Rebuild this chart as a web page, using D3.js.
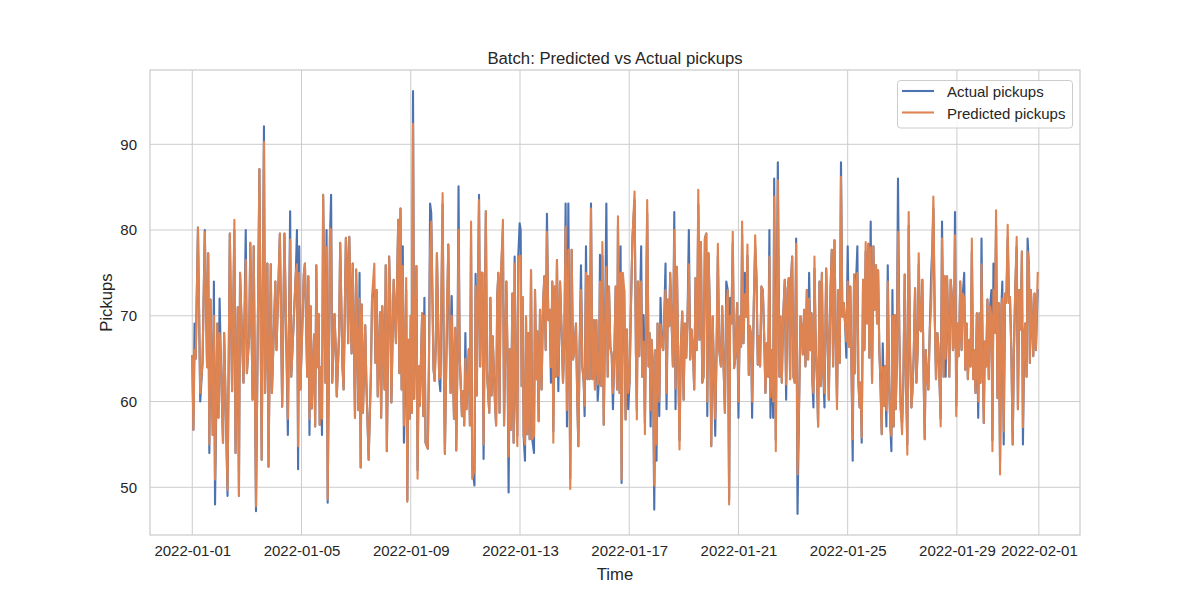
<!DOCTYPE html>
<html>
<head>
<meta charset="utf-8">
<script src="https://cdn.jsdelivr.net/npm/d3@7"></script>
<style>
  html, body { margin: 0; padding: 0; background: #ffffff; }
  svg { display: block; font-family: "Liberation Sans", Arial, sans-serif; }
</style>
</head>
<body>
<svg id="chart" width="1200" height="600"></svg>
<script>
// ---- data (hours since 2022-01-01 00:00) ----
const hours = [
  0,1,2,3,5,7,9,11,13,14, 15,16,18,19,20,22,23,24,25,27, 28,31,33,35,37,38,40,41,42,45,
  47,48,50,51,53,54,56,59,61,63, 64,66,67,69,70,73,74,77,79,81, 84,86,87,
  91,92,93,94,95,97,98,99,101,102, 103,104,105,107,108,109,110,111,112,113,
  114,115,117,118,119,121,122,123,125,126, 127,129,130,132,133,135,136,137,138,140,
  141,143,144,146,147,148,149,150,152,153, 155,157,158,160,161,162,163,165,166,167,
  169,170,171,173,174,175,177,179,181,182, 183,184,
  185,186,188,189,190,191,192,193,194,195, 197,198,199,200,202,203,204,205,207,208,
  209,210,212,213,214,215,217,218,220,221, 222,223,224,225,227,228,229,230,231,232,
  233,234,235,237,238,239,240,241,243,244, 245,246,248,249,250,252,253,254,255,256,
  257,258,259,261,262,263,264,266,267,268, 269,270,271,273,274,276,277,278,279,
  280.1,281.3,282.4,283.3,284.5,285.7,286.5,287.7,288.6,289.5, 290.3,291.2,292.4,293.3,294.4,295.3,296.5,297.7,298.8,300.3,
  301.2,302.4,303.2,304.4,305.6,307,308.2,309.4,310.6,311.7, 312.9,314.1,315.2,316.4,317.3,318.5,319.4,320.5,321.7,323.2,
  324.6,325.8,327,328.1,329.3,330.5,332.2,333.4,334.6,335.8, 337.2,338.4,339.3,340.4,341.6,342.8,344,344.8,346,347.2,
  348.1,349.2,350.4,351.6,352.8,353.9,355.1,356.3,357.4,358.3, 359.5,360.4,361.6,362.7,363.9,365.1,366.2,367.4,368.6,369.7,
  370.9,372.1,373.3,374.1,
  375.5,376.4,377.3,378.4,379.6,380.8,381.9,383.1,384.3,385.5, 386.9,388.7,389.9,390.7,391.6,392.8,393.7,394.5,395.4,396.6,
  397.8,398.9,399.8,401,401.9,402.8,403.6,404.8,406,407.1, 408,408.9,410.4,411.5,412.7,413.9,414.8,415.9,416.8,418,
  419.2,420,421.2,422.4,423.6,424.7,425.9,427.1,428.2,429.4, 430.6,431.8,432.9,434.1,435.3,436.4,437.6,438.8,440,441.1,
  442.3,443.5,444.7,445.8,447,448.2,449.3,450.5,451.7,452.6, 453.7,454.9,456.1,457.3,458.4,459.6,460.8,461.9,463.1,464.6,
  465.7,466.9,468.1,469.3,
  470.6,471.8,472.7,473.8,475,476.2,477.4,478.8,480,481.2, 482.3,483.2,484.4,485.6,486.7,487.9,489.1,490,491.1,492,
  493.5,494.7,495.8,497,497.9,499,500.2,501.4,502.6,503.7, 504.9,506.1,507.2,508.1,509.3,510.5,511.4,512.8,514.6,516,
  516.9,518.1,519.3,520.7,521.9,523.1,524.2,525.4,526.3,527.2, 528.3,529.5,530.7,531.9,533.3,534.5,535.7,536.5,537.7,538.9,
  540.1,541.2,542.1,543.3,544.2,545,545.9,546.8,548,549.1, 550,551.2,552.4,553.3,554.4,555.6,557.1,558.2,559.4,560.9,
  562,563.2,564.4,
  565.5,566.6,567.8,569,570.1,571.3,572.5,573.7,574.8,576, 577.2,578.3,579.5,580.4,581.6,582.4,583.3,584.5,585.4,586.5,
  587.4,588.3,589.5,590.7,591.8,593,594.2,595,596.2,597.4, 598.6,599.7,600.9,601.8,602.7,603.8,604.7,605.9,606.8,607.9,
  608.8,610,611.2,612.4,613.5,614.4,615.3,616.4,617.3,618.2, 619.1,620.2,621.4,622.6,623.8,624.9,626.1,627.3,628.4,629.6,
  630.8,632,632.8,634,635.2,636.4,637.5,638.4,639.6,640.5, 641.6,642.8,643.7,644.6,645.7,646.9,648.1,649.3,650.4,651.3,
  652.5,653.6,654.8,655.7,656.9,657.7,658.9,
  660.3,661.2,662.1,663.3,664.1,665.3,666.5,667.6,668.5,669.4, 670.3,671.4,672.6,673.7,674.9,676.1,677.2,678.4,679.3,680.5,
  681.6,682.8,684,685.1,686.3,687.2,688.3,689.5,690.7,691.8, 692.7,693.6,694.7,695.6,696.5,697.7,698.8,700,701.2,702.3,
  703.2,704.1,705.2,706.4,707.6,708.7,709.9,711.1,711.9,713.1, 714.3,715.4,716.6,717.8,718.6,719.8,721,722.1,723.3,724.5,
  725.6,726.8,728,729.1,730,731.2,732,733.2,734.1,735.3, 736.1,737,737.9,739.1,740.2,741.4,743
];

const actualPickups = [
  65.3,56.7,69.1,65,80.3,60,64.5,80,64,77.3, 54,71.9,56.1,74,48,69.1,58.1,72,65.6,55.2, 68,49,79.6,61.2,80,54,71,49,75,62.2,
  80,63.3,67.6,78.5,60.2,78.1,47.2,87.1,53.2,92.1, 61,76.1,52.4,76,61,74,66,79.6,59.4,79.6, 56.1,82.2,62.9,
  75,80,52.1,78.1,61.4,70,74.8,76.1,62.9,74.6, 56.1,71.1,59.2,67.8,57.1,75.9,64,70.2,57.3,64,
  56.1,84.1,62.2,80,48.2,79,84.1,62.2,70.2,66.4, 60.6,67.8,78.5,64,61.4,79.1,75.8,66.8,79.2,65.6,
  76.1,58.1,75.4,59,75,52.3,71.3,58.7,68.9,62.2, 53.2,63.3,72.2,73,64.5,73,60.6,70.4,58.1,71.1,
  61.4,75.9,54.2,76.9,71.5,59.9,74.2,66.8,81.2,63.3, 82.5,61.4,
  78.1,55.2,73,48.5,67.2,58,70,58.7,96.2,60.3, 75.8,52,64.1,59.5,70.3,58.3,72.1,55.2,54.5,64.5,
  83.1,82,63.8,62.4,66.5,77.3,62.6,61.2,83,65.9, 53.9,62.6,70,78.3,61,72.3,63.8,58,68.6,54.3,
  64.5,85.1,65.3,58.3,61.2,57.2,68,59.1,66.1,57.2, 79.5,52.5,50.2,74.9,60.7,84.1,64.1,75,75,53.3,
  69.2,82.2,63.4,58.7,72.1,60.7,67.6,59.9,57.2,72.3, 75,58.7,73.8,80,57.2,74,65.7,49.4,66.1,
  56.7,72.6,55.2,76.9,61.4,56,76.9,80.8,80,61.8, 72.2,56,53.1,69.9,56.2,68,55.6,75.3,55.6,54,
  73,62.6,68.2,57.7,70.7,61.4,71.1,74.6,66,81.9, 69.5,70.7,62.2,74,56.5,73.4,62.9,76.5,61.2,74,
  68,62.2,67.2,83.1,57.1,83.1,51,77.7,64.9,66, 69.1,59.8,54.8,66.2,75.9,64.1,62.2,58.3,78.1,62.6,
  74.6,62.6,83.1,62.6,69.5,61.4,69.5,60.1,62.6,77.1, 61.8,77,57.3,68.4,83.1,62.9,73.4,66.4,65.5,59.1,
  65.3,73.4,61.4,80.5,
  61,78.1,50.5,73.5,73,57.9,68.4,59.1,62.2,71.1, 79.2,83.5,65.7,59,74,65.3,72.6,78.1,62.9,70.1,
  57.5,71.9,82,64.1,68,57.1,67.2,64.5,47.4,66, 53.1,69.1,58.3,72.1,66.8,66,69.9,76.1,59.1,71.9,
  68.8,75,69.5,64.1,82.1,59.1,75.7,64.5,55.5,66.4, 70.5,60.2,69.1,65.1,70.3,80,64.9,68.4,66,61.4,
  74.4,66,83,67.2,78.6,62.2,62.9,79,79.6,58.3, 77.3,70.3,54.8,69.9,63.7,56,66.4,77,66,64.1,
  71.1,64.1,58.7,74,
  73,48.5,72.1,69.1,78.5,63.9,65.3,71.5,58.1,69.9, 66.4,79.5,66.8,75,69.9,77,63.1,68.8,67.6,58.1,
  71.5,78,74.6,64.3,67.6,64.1,73.4,73,67.6,61, 66.8,62.9,80,58.1,66,58.1,86,55.5,87.9,62.9,
  69.9,62.2,69.9,74.2,60.2,73,74.4,62.6,74.4,76.9, 62.9,62.2,79,46.9,59.8,69.9,68.4,65.5,70.7,64.1,
  73,64.9,75,66,70.3,62.2,59.3,75.5,66,62.2, 57.1,74,61.8,75,63.7,59.3,75.5,68.4,60.2,73,
  77.7,64.1,78.8,
  67.6,60,73,64.5,87.9,69.9,71.5,69.1,65.1,78.1, 66.4,73.4,62.2,53.1,74.8,63.3,73.8,78.1,62.2,59.3,
  62.2,55.2,74.2,66,77.5,69.1,78.4,65.1,81,62.2, 78.1,70.7,75.9,69.1,75.3,66,62.6,56.2,66.8,59.5,
  64.1,57.1,75.9,61.8,57.1,54.2,73,57.1,70.1,59.1, 64.1,86,67.6,59.1,57.5,62.2,74.8,62.2,55,80.5,
  66,59.3,61,65.3,73.2,62.2,66,76,68.4,68.2, 74.2,62.2,55.6,66,62.9,61.4,68.2,74.6,78.1,82.5,
  69.9,62.6,68,66.4,61.4,58,81,
  62.9,74.6,62.9,74.6,69.9,62.9,74.2,72.2,66,66.8, 82.1,59.5,69.1,65.3,74,66,72.6,75,63.7,69.1,
  62.6,67.2,64.1,77.5,62.6,66,61,70.3,58.1,70.3, 62.2,79,64.5,57.5,67,64.1,71.9,62.6,71.1,73,
  55.5,76.1,68,80.5,60.4,71.5,53,71.1,74,55, 72.6,71.5,79,71.5,72.2,66,55,66,73.4,78,
  59.1,73,68.4,77.5,55,67.6,69.1,62.9,79,75.7, 64.5,73,69.9,65.3,72.6,66,73
];

const predictedPickups = [
  65.3,56.7,66,65,80.3,61,64.5,79.8,64,77.3, 55,71.9,56.1,70,50.9,69.1,58.1,68,65.6,55.2, 68,49.7,79.6,61.2,81.2,54,71,49,75,62.2,
  76.5,63.3,67.6,78.5,60.2,78.1,47.8,87.1,53.2,90.3, 61,76.1,52.4,76,61,74,66,79.6,59.4,79.6, 58,78.9,62.9,
  75,76,54.8,75,61.4,70,74.8,76.1,62.9,74.6, 58,71.1,59.2,67.8,57.1,75.9,64,70.2,57.3,64,
  58,84.1,62.2,78,48.6,80.2,80,62.2,70.2,66.4, 60.6,67.8,78.5,64,61.4,79.1,75.8,66.8,79.2,65.6,
  76.1,58.1,75.4,59,72,52.3,71.3,58.7,68.9,62.2, 53.2,63.3,72.2,76.1,64.5,73,60.6,70.4,58.1,71.1,
  61.4,75.9,54.2,76.9,71.5,59.9,74.2,66.8,81.2,63.3, 82.5,61.4,
  75.8,57.2,74.4,48.3,67.2,58,70,58.7,92.4,60.3, 75.8,51,64.1,59.5,70.3,58.3,70,55.2,54.5,64.5,
  77.7,81,63.8,62.4,66.5,77.3,62.6,63,84.3,65.9, 53.9,62.6,72.1,78.3,61,70,63.8,58,68.6,54.3,
  64.5,80,65.3,58.3,61.2,57.2,65,59.1,66.1,57.2, 81,51,52,73.5,60.7,83.5,64.1,75,75,55,
  69.2,82.2,63.4,58.7,72.1,60.7,67.6,59.9,57.2,72.3, 75,58.7,73.8,81.2,57.2,74,65.7,53.6,66.1,
  56.7,72.6,55.2,76.1,61.4,54.8,76.9,76.9,77,61.8, 72.2,56,55,69.9,56.2,68,55.6,75.3,55.6,56,
  73,62.6,68.2,57.7,70.7,61.4,71.1,74.6,66,79.8, 69.5,70.7,64,74,55.2,73.4,62.9,76.5,63,74,
  68,62.2,67.2,80.4,59,77.7,49.8,77.7,64.9,66, 69.1,59.8,54.8,66.2,73,64.1,62.2,59.5,75,62.6,
  74.6,62.6,82.5,62.6,69.5,61.4,69.5,62,62.6,74, 61.8,78.6,57.3,68.4,75.7,62.9,73.4,66.4,65.5,61,
  65.3,73.4,61.4,81.6,
  61,75,50.9,75,73,57.9,68.4,61,62.2,71.1, 79.2,84.5,65.7,57.9,74,65.3,72.6,74,62.9,67,
  56.2,71.9,83.5,64.1,68,59,67.2,64.5,50.2,66, 55,69.1,60,69,66.8,66,69.9,73,61,71.9,
  68.8,75,69.5,64.1,80,61.5,75.7,64.5,54.4,66.4, 70.5,60.2,69.1,65.1,70.3,76,64.9,68.4,66,61.4,
  74.4,66,84.7,67.2,78.6,62.2,62.9,79,79.6,60, 77.3,70.3,54.8,69.9,63.7,58,66.4,78.4,66,64.1,
  71.1,64.1,58.7,71,
  73,48,70,69.1,79.8,63.9,65.3,71.5,60,69.9, 66.4,81,66.8,72.5,69.9,78.3,63.1,68.8,67.6,60,
  71.5,79.4,74.6,64.3,67.6,64.1,73.4,73,67.6,61, 66.8,62.9,76.9,60.5,66,60,83.9,54.2,85.8,62.9,
  69.9,62.2,69.9,74.2,62,73,74.4,62.6,74.4,76.9, 62.9,62.2,78.4,51.5,59.8,69.9,68.4,65.5,70.7,64.1,
  73,64.9,72,66,70.3,62.2,61,76.9,66,62.2, 57.1,74,61.8,75,63.7,61,75.5,68.4,60.2,73,
  77.7,64.1,78.8,
  67.6,59.1,73,64.5,86.2,69.9,71.5,69.1,67,74, 66.4,73.4,62.2,55.6,74.8,63.3,73.8,75,62.2,59.3,
  62.2,55.8,74.2,66,78.6,69.1,78.4,65.1,78,62.2, 78.1,70.7,75.9,69.1,75.3,66,62.6,56.2,64,59.5,
  64.1,59,74,61.8,57.1,56,70,57.1,70.1,59.1, 64.1,79.8,67.6,59.1,56.2,62.2,74.8,62.2,53.8,82.1,
  66,59.3,61,65.3,73.2,62.2,66,77.3,68.4,68.2, 74.2,62.2,55.6,66,62.9,61.4,68.2,71,78.1,83.9,
  69.9,62.6,68,66.4,61.4,57.1,79,
  62.9,74.6,65,74.6,69.9,62.9,74.2,72.2,66,66.8, 79.4,58.3,69.1,65.3,74,66,72.6,72,63.7,69.1,
  62.6,67.2,64.1,79,62.6,66,61,70.3,60,70.3, 62.2,76,64.5,57.5,67,64.1,71.9,62.6,71.1,70,
  54.2,73,68,82.3,60.4,71.5,51.5,71.1,72,56.5, 72.6,71.5,80.6,71.5,72.2,66,55,66,73.4,79.2,
  59.1,73,68.4,77.5,57,67.6,69.1,62.9,77.5,75.7, 64.5,73,69.9,65.3,72.6,66,75
];

const seriesNames = ["Actual pickups", "Predicted pickups"];
const xTickLabels = ["2022-01-01","2022-01-05","2022-01-09","2022-01-13","2022-01-17","2022-01-21","2022-01-25","2022-01-29","2022-02-01"];
const yTickValues = [50, 60, 70, 80, 90];

(function draw() {
  // ---- layout ----
  const W = 1200, H = 600;
  const mL = 150, mR = 1080, mT = 70, mB = 535;
  const colors = ["#4C72B0", "#DD8452"];
  const textColor = "#262626";
  const gridColor = "#cccccc";
  const fontFam = '"Liberation Sans", Arial, sans-serif';

  const svg = d3.select("#chart");
  const t0 = Date.UTC(2022, 0, 1);
  const toDate = h => new Date(t0 + h * 3600e3);

  const rows = hours.map((h, i) => ({ t: toDate(h), a: actualPickups[i], p: predictedPickups[i] }));

  // matplotlib-like 5% margins
  const tExt = d3.extent(rows, d => d.t.getTime());
  const tPad = (tExt[1] - tExt[0]) * 0.05;
  const x = d3.scaleUtc()
    .domain([new Date(tExt[0] - tPad), new Date(tExt[1] + tPad)])
    .range([mL, mR]);

  const allVals = actualPickups.concat(predictedPickups);
  const vExt = d3.extent(allVals);
  const vPad = (vExt[1] - vExt[0]) * 0.05;
  const y = d3.scaleLinear()
    .domain([vExt[0] - vPad, vExt[1] + vPad])
    .range([mB, mT]);

  const parseDay = d3.utcParse("%Y-%m-%d");
  const xTicks = xTickLabels.map(parseDay);

  svg.append("rect").attr("x", 0).attr("y", 0).attr("width", W).attr("height", H).attr("fill", "#ffffff");

  // grid
  const grid = svg.append("g");
  grid.selectAll("line.vx").data(xTicks).join("line")
    .attr("x1", d => x(d)).attr("x2", d => x(d))
    .attr("y1", mT).attr("y2", mB)
    .attr("stroke", gridColor).attr("stroke-width", 1);
  grid.selectAll("line.hy").data(yTickValues).join("line")
    .attr("x1", mL).attr("x2", mR)
    .attr("y1", d => y(d)).attr("y2", d => y(d))
    .attr("stroke", gridColor).attr("stroke-width", 1);

  // axes (labels only)
  const xAxis = d3.axisBottom(x).tickValues(xTicks).tickSize(0).tickPadding(10)
    .tickFormat(d3.utcFormat("%Y-%m-%d"));
  const gx = svg.append("g").attr("transform", `translate(0,${mB})`).call(xAxis);
  gx.select(".domain").remove();
  gx.selectAll("text").attr("fill", textColor).style("font-size", "15px").style("font-family", fontFam);

  const yAxis = d3.axisLeft(y).tickValues(yTickValues).tickSize(0).tickPadding(13);
  const gy = svg.append("g").attr("transform", `translate(${mL},0)`).call(yAxis);
  gy.select(".domain").remove();
  gy.selectAll("text").attr("fill", textColor).style("font-size", "15px").style("font-family", fontFam);

  svg.append("clipPath").attr("id", "plotclip").append("rect")
    .attr("x", mL).attr("y", mT).attr("width", mR - mL).attr("height", mB - mT);

  const plot = svg.append("g").attr("clip-path", "url(#plotclip)");
  const lineA = d3.line().x(d => x(d.t)).y(d => y(d.a));
  const lineP = d3.line().x(d => x(d.t)).y(d => y(d.p));

  plot.append("path").datum(rows).attr("d", lineA)
    .attr("fill", "none").attr("stroke", colors[0]).attr("stroke-width", 2.1)
    .attr("stroke-linejoin", "round").attr("stroke-linecap", "square");
  plot.append("path").datum(rows).attr("d", lineP)
    .attr("fill", "none").attr("stroke", colors[1]).attr("stroke-width", 2.1)
    .attr("stroke-linejoin", "round").attr("stroke-linecap", "square");

  // frame
  svg.append("rect").attr("x", mL).attr("y", mT)
    .attr("width", mR - mL).attr("height", mB - mT)
    .attr("fill", "none").attr("stroke", gridColor).attr("stroke-width", 1.25);

  // title and labels
  svg.append("text").attr("x", (mL + mR) / 2).attr("y", 64)
    .attr("text-anchor", "middle").attr("fill", textColor).style("font-size", "16.7px")
    .text("Batch: Predicted vs Actual pickups");
  svg.append("text").attr("x", (mL + mR) / 2).attr("y", 580)
    .attr("text-anchor", "middle").attr("fill", textColor).style("font-size", "16.7px")
    .text("Time");
  svg.append("text")
    .attr("transform", `translate(112,${(mT + mB) / 2}) rotate(-90)`)
    .attr("text-anchor", "middle").attr("fill", textColor).style("font-size", "16.7px")
    .text("Pickups");

  // legend
  const lg = svg.append("g");
  lg.append("rect").attr("x", 897.5).attr("y", 80.5).attr("width", 175).attr("height", 47.5)
    .attr("rx", 3).attr("fill", "#ffffff").attr("fill-opacity", 0.8)
    .attr("stroke", gridColor).attr("stroke-width", 1);
  seriesNames.forEach((name, i) => {
    const ly = 91 + i * 21.5;
    lg.append("line").attr("x1", 902).attr("x2", 934).attr("y1", ly).attr("y2", ly)
      .attr("stroke", colors[i]).attr("stroke-width", 2.1);
    lg.append("text").attr("x", 947).attr("y", ly + 6.3)
      .attr("fill", textColor).style("font-size", "15px").text(name);
  });
})();
</script>
</body>
</html>
